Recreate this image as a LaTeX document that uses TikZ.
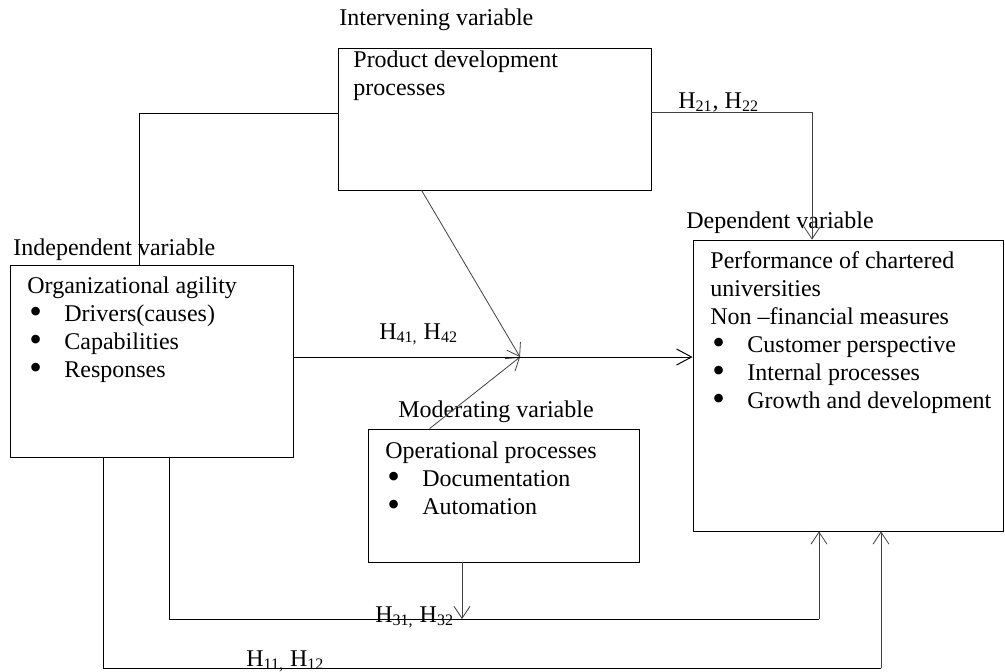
\documentclass[tikz,border=0pt]{standalone}
\usepackage{fontspec}
\setmainfont{Liberation Serif}
\usetikzlibrary{arrows.meta,fit}

% one bullet line inside a frame
\newcommand{\bitem}[1]{\makebox[18.5pt][l]{\hspace{1pt}\smash{\raisebox{-1.3pt}{\scalebox{1.5}{\textbullet}}}}#1}

\begin{document}
\begin{tikzpicture}[x=0.5pt,y=-0.5pt,>={Straight Barb[length=6pt,width=8pt]},
    font=\fontsize{12}{14}\selectfont]
	% styles for the frames, the headings and the links
	\tikzset{varbox/.style={draw,inner sep=0pt}, % plain frame round one variable
		lbl/.style={inner sep=0pt,anchor=base west},
		link/.style={line width=0.5pt},
		thinlink/.style={line width=0.4pt,black!75},
	}
	\useasboundingbox (0,0) rectangle (1005,671);
	% headings above each frame
	\node[lbl] (interv) at (339,25) {Intervening variable};
	\node[lbl] (indep) at (13,255) {Independent variable};
	\node[lbl] (dep) at (686,228) {Dependent variable};
	\node[lbl] (moder) at (398,417) {Moderating variable};
	% the four frames
	\node[varbox,fit={(338,48) (651,190)}] (prod) {};
	\node[varbox,fit={(10,265) (293,457)}] (agility) {};
	\node[varbox,fit={(693,240) (1003,531)}] (perf) {};
	\node[varbox,fit={(368,429) (639,562)}] (oper) {};
	% what each frame says
	\node[lbl] (prod-t) at (353,67) {\parbox[t]{140pt}{Product development\\processes}};
	\node[lbl] (agility-t) at (27,293) {\parbox[t]{135pt}{Organizational agility\\
		\bitem{Drivers(causes)}\\\bitem{Capabilities}\\\bitem{Responses}}};
	\node[lbl] (perf-t) at (710,268) {\parbox[t]{145pt}{Performance of chartered\\universities\\
		Non --financial measures\\\bitem{Customer perspective}\\\bitem{Internal processes}\\
		\bitem{Growth and development}}};
	\node[lbl] (oper-t) at (385,458) {\parbox[t]{125pt}{Operational processes\\
		\bitem{Documentation}\\\bitem{Automation}}};
	% corners of the links
	\coordinate (mid) at (520,357);
	\coordinate (k1) at (139,113);
	\coordinate (k2) at (812,112);
	\coordinate (k3) at (169,619);
	\coordinate (k4) at (819,619);
	\coordinate (k5) at (103,668);
	\coordinate (k6) at (881,668);
	\coordinate (k7) at (462,619);
	% links between the variables
	\draw[link] (prod.west |- k1) -| (agility.north -| k1);
	\draw[thinlink,->] (prod.east |- k2) -| (perf.north -| k2);
	\draw[thinlink,->] (prod.south west) ++(84,0) -- (mid);
	\draw[thinlink,->] (oper.north west) ++(62,0) -- (mid);
	\draw[link,->,>={Straight Barb[length=7.5pt,width=8pt]}] (agility.east |- mid) -- (perf.west |- mid);
	\draw[thinlink,->] (oper.south -| k7) -- (k7);
	\draw[link] (agility.south -| k3) |- (k4);
	\draw[thinlink,->] (k4) -- (perf.south -| k4);
	\draw[link] (agility.south -| k5) |- (k6);
	\draw[thinlink,->] (k6) -- (perf.south -| k6);
	% hypothesis labels
	\node[lbl] (h4) at (379,339) {H\textsubscript{41,} H\textsubscript{42}};
	\node[lbl] (h2) at (678,108) {H\textsubscript{21}, H\textsubscript{22}};
	\node[lbl] (h3) at (375,622) {H\textsubscript{31,} H\textsubscript{32}};
	\node[lbl] (h1) at (246,666) {H\textsubscript{11,} H\textsubscript{12}};
\end{tikzpicture}
\end{document}
